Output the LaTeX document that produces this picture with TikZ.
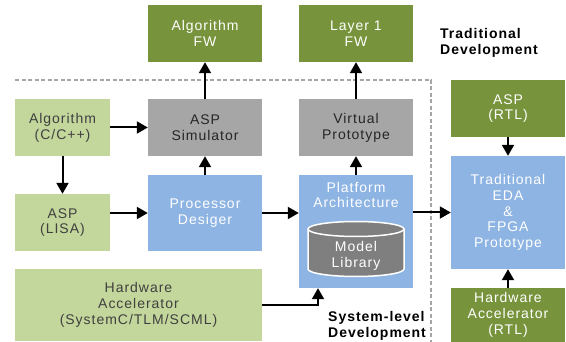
\documentclass[tikz,border=0pt]{standalone}
\usepackage{fontspec}
\setmainfont{Liberation Sans}[LetterSpace=7]
\usetikzlibrary{arrows.meta,calc}
\definecolor{darkgreen}{HTML}{77933C}
\definecolor{lightgreen}{HTML}{C3D69B}
\definecolor{midgray}{HTML}{A6A6A6}
\definecolor{softblue}{HTML}{8EB4E3}
\definecolor{cylgray}{HTML}{7F7F7F}
\definecolor{inktext}{HTML}{404040}
\begin{document}
\begin{tikzpicture}[x=1pt,y=-1pt,
  font=\fontsize{14}{15.8}\selectfont,
  box/.style={minimum width=114pt,minimum height=57pt,inner sep=0pt,align=center,anchor=center},
  fwbox/.style={box,fill=darkgreen,text=white},
  srcbox/.style={box,fill=lightgreen,text=inktext},
  simbox/.style={box,fill=midgray,text=black!85},
  toolbox/.style={box,fill=softblue,text=white},
  flow/.style={line width=2pt,-{Triangle[width=12pt,length=11pt]}},
  boundary/.style={midgray,line width=2pt,dash pattern=on 4pt off 2.5pt},
  heading/.style={font=\fontsize{14}{15.8}\selectfont\bfseries,align=left,anchor=west,inner sep=0pt,text=black}]
\useasboundingbox (0,0) rectangle (566,342);

% boundary of the system-level flow
\draw[boundary] (15,80) -- (431,80) -- (431,342);

% firmware targets
\node[fwbox] (algfw) at (205,33.5) {Algorithm\\FW};
\node[fwbox] (l1fw) at (356,33.5) {Layer 1\\FW};

% system-level development
\node[srcbox,minimum width=95pt] (algc) at (62.5,127.5) {Algorithm\\(C/C++)};
\node[simbox] (aspsim) at (205,127.5) {ASP\\Simulator};
\node[simbox] (vp) at (356,127.5) {Virtual\\Prototype};
\node[srcbox,minimum width=95pt] (lisa) at (62.5,222.5) {ASP\\(LISA)};
\node[toolbox,minimum height=76pt] (proc) at (205,213) {Processor\\Desiger};
\node[toolbox,minimum height=113pt] (plat) at (356,231.5) {};
\node[align=center,text=white,inner sep=0pt] (plattext) at (356,195) {Platform\\Architecture};
\node[srcbox,minimum width=247pt,minimum height=72pt] (hwacc) at (138.5,305) {Hardware\\Accelerator\\(SystemC/TLM/SCML)};

% model library cylinder
\fill[cylgray] (308,229) -- (308,269) arc[start angle=180,end angle=0,x radius=48,y radius=7.5] -- (404,229) arc[start angle=0,end angle=-180,x radius=48,y radius=7.5] -- cycle;
\draw[white,line width=1.5pt] (308,229) -- (308,269) arc[start angle=180,end angle=0,x radius=48,y radius=7.5] -- (404,229);
\draw[white,line width=1.5pt] (356,229) ellipse[x radius=48,y radius=7.5];
\node[align=center,text=white,inner sep=0pt] (modlib) at (356,256) {Model\\Library};

% traditional development
\node[fwbox] (asprtl) at (508,108.5) {ASP\\(RTL)};
\node[toolbox,minimum height=113pt] (eda) at (508,212.5) {Traditional\\EDA\\\&\\FPGA\\Prototype};
\node[fwbox,minimum height=54pt] (hwrtl) at (508,315) {Hardware\\Accelerator\\(RTL)};

% headings
\node[heading] (tradhead) at (440,43) {Traditional\\Development};
\node[heading] (syshead) at (328,326) {System-level\\Development};

% connectors
\draw[flow] (aspsim) -- (algfw);
\draw[flow] (vp) -- (l1fw);
\draw[flow] (algc) -- (aspsim);
\draw[flow] (algc) -- (lisa);
\draw[flow] (proc) -- (aspsim);
\draw[flow] (plat) -- (vp);
\draw[flow] (lisa.east |- proc) -- (proc.west);
\draw[flow] (proc) -- (proc -| plat.west);
\draw[flow] (plat.east |- eda) -- (eda.west);
\draw[flow] (hwacc.east) -| ([xshift=-38pt]plat.south);
\draw[flow] (asprtl) -- (eda);
\draw[flow] (hwrtl) -- (eda);
\end{tikzpicture}
\end{document}
